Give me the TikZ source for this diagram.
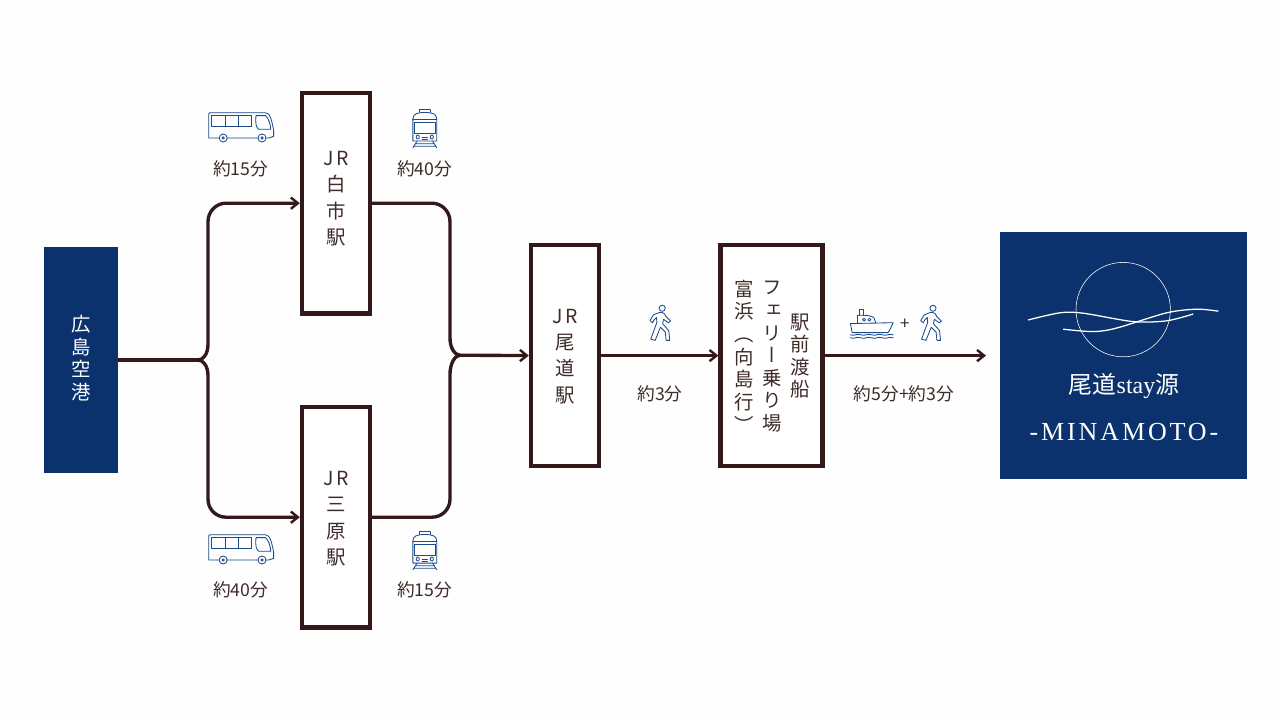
\documentclass[tikz,border=0pt]{standalone}
\usepackage{fontspec}
\setmainfont{Liberation Serif}
\newfontfamily\jpfont{Noto Sans CJK JP}
\newfontfamily\jpvert[RawFeature=+vert]{Noto Sans CJK JP}
\newfontfamily\logofont[LetterSpace=11]{Liberation Serif}
\usetikzlibrary{arrows.meta, positioning}
\definecolor{navy}{HTML}{0B326C}
\definecolor{linebrown}{HTML}{33191A}
\definecolor{textbrown}{HTML}{3E2C28}
\definecolor{iconblue}{HTML}{1A4A88}
\tikzset{
    stationbox/.style={
        rectangle, draw=linebrown, line width=3.1pt,
        minimum width=1.7cm, minimum height=5.52cm, fill=white
    },
    navybox/.style={rectangle, fill=navy, text=white},
    stationtext/.style={
        font=\fontsize{13.8}{18.7}\selectfont\jpvert, text=textbrown,
        align=center, inner sep=0pt
    },
    ferrytext/.style={stationtext, font=\fontsize{13.8}{16.1}\selectfont\jpvert},
    timetext/.style={font=\fontsize{12.6}{15}\selectfont\jpfont, text=textbrown, inner sep=0pt},
    wire/.style={draw=linebrown, line width=2.4pt},
    arrowwire/.style={wire, -{Straight Barb[length=5pt, width=8pt, line width=1.7pt]}},
    iconline/.style={draw=iconblue, line width=0.6pt, line join=round, line cap=round},
    wave/.style={draw=white, line width=0.9pt},
    busicon/.pic={
        \draw[iconline] (-0.8,-0.3) -- (-0.8,0.3) .. controls (-0.8,0.33) and (-0.78,0.33) .. (-0.75,0.33)
            -- (0.62,0.33) .. controls (0.74,0.33) and (0.78,0.1) .. (0.82,-0.1) -- (0.82,-0.26) -- (0.7,-0.3) -- (-0.8,-0.3);
        \draw[iconline] (-0.73,0.26) rectangle (0.27,-0.02);
        \draw[iconline] (-0.39,0.26) -- (-0.39,-0.02) (-0.06,0.26) -- (-0.06,-0.02);
        \draw[iconline] (0.38,0.26) -- (0.62,0.26) .. controls (0.7,0.18) and (0.74,0.05) .. (0.75,-0.08) -- (0.45,-0.08) .. controls (0.38,-0.06) and (0.36,0.1) .. (0.38,0.26);
        \foreach \wx in {-0.44,0.53}{
            \draw[iconline, fill=white] (\wx,-0.3) circle (0.1);
            \draw[iconline] (\wx,-0.3) circle (0.03);
        }
    },
    trainicon/.pic={
        \draw[iconline] (-0.2,0.5) -- (0.2,0.5) (-0.2,0.5) -- (-0.2,0.42) (0.2,0.5) -- (0.2,0.42);
        \draw[iconline] (-0.46,-0.42) -- (-0.46,0.22) .. controls (-0.46,0.38) and (-0.3,0.42) .. (0,0.42)
            .. controls (0.3,0.42) and (0.46,0.38) .. (0.46,0.22) -- (0.46,-0.42) -- cycle;
        \draw[iconline] (-0.46,0.22) -- (0.46,0.22);
        \draw[iconline] (-0.4,0.14) rectangle (0.4,-0.2);
        \draw[iconline] (-0.27,-0.3) circle (0.06) (0.27,-0.3) circle (0.06);
        \draw[iconline] (-0.1,-0.3) -- (0.1,-0.3) (-0.1,-0.36) -- (0.1,-0.36);
        \draw[iconline] (-0.3,-0.42) -- (-0.46,-0.62) (0.3,-0.42) -- (0.46,-0.62) (-0.37,-0.5) -- (0.37,-0.5) (-0.42,-0.57) -- (0.42,-0.57);
    },
    walkicon/.pic={
        \draw[iconline] (0.1,0.66) circle (0.14);
        \draw[iconline] (-0.05,0.46) .. controls (0.1,0.5) and (0.22,0.44) .. (0.26,0.3) -- (0.48,0.08) -- (0.38,0) -- (0.16,0.16)
            -- (0.12,-0.04) -- (0.4,-0.36) -- (0.44,-0.8) -- (0.28,-0.8) -- (0.24,-0.42) -- (0.02,-0.2)
            -- (-0.22,-0.8) -- (-0.42,-0.74) -- (-0.14,0.02) -- (-0.16,0.24) -- (-0.28,0.12) -- (-0.34,0) -- (-0.46,0.1) -- (-0.3,0.36) -- cycle;
    },
    shipicon/.pic={
        \draw[iconline] (-0.98,0.02) -- (1.0,0.06) .. controls (0.9,-0.12) and (0.85,-0.32) .. (0.75,-0.4) -- (-0.9,-0.4) -- cycle;
        \draw[iconline] (-0.65,0.02) -- (-0.65,0.4) .. controls (-0.3,0.42) and (-0.05,0.4) .. (0.1,0.3) -- (0.2,0.03);
        \draw[iconline] (-0.55,0.4) -- (-0.55,0.66) -- (-0.38,0.66) -- (-0.38,0.4);
        \draw[iconline] (-0.35,0.2) circle (0.07) (-0.1,0.2) circle (0.07);
        \foreach \wy in {-0.5,-0.64}
            \draw[iconline] (-0.98,\wy) .. controls (-0.74,\wy-0.08) and (-0.74,\wy+0.08) .. (-0.5,\wy)
                .. controls (-0.26,\wy-0.08) and (-0.26,\wy+0.08) .. (0,\wy)
                .. controls (0.24,\wy-0.08) and (0.24,\wy+0.08) .. (0.5,\wy)
                .. controls (0.74,\wy-0.08) and (0.74,\wy+0.08) .. (1.0,\wy);
    }
}

\begin{document}
\begin{tikzpicture}

\useasboundingbox[fill=white!99.5!black] (0,0) rectangle (32,18);

% boxes
\node[navybox, minimum width=1.85cm, minimum height=5.65cm] (airport) at (2.025,9) {};
\node[stationbox] (shiraichi) at (8.4,12.92) {};
\node[stationbox] (mihara) at (8.4,5.07) {};
\node[stationbox] (onomichi) at (14.125,9.11) {};
\node[stationbox, minimum width=2.55cm] (ferry) at (19.29,9.11) {};
\node[navybox, minimum width=6.18cm, minimum height=6.18cm] (logo) at (28.09,9.11) {};

% box texts
\node[ferrytext, text=white] (airporttext) at (2.025,9.05) {広\\島\\空\\港};
\node[stationtext] (shiraichitext) at (8.4,13.03) {J\,R\\白\\市\\駅};
\node[stationtext] (miharatext) at (8.4,5.03) {J\,R\\三\\原\\駅};
\node[stationtext] (onomichitext) at (14.125,9.09) {J\,R\\尾\\道\\駅};
\node[ferrytext] (ferrycol1) at (20,9.1) {駅\\前\\渡\\船};
\node[ferrytext] (ferrycol2) at (19.3,9.08) {フ\\ェ\\リ\\ー\\乗\\り\\場};
\node[ferrytext] (ferrycol3) at (18.6,9.1) {富\\浜\\（\\向\\島\\行\\）};

% times
\node[timetext] (time1) at (6.02,13.77) {約15分};
\node[timetext] (time2) at (10.62,13.77) {約40分};
\node[timetext] (time3) at (6.02,3.25) {約40分};
\node[timetext] (time4) at (10.62,3.25) {約15分};
\node[timetext] (time5) at (16.5,8.16) {約3分};
\node[timetext] (time6) at (22.6,8.16) {約5分+約3分};

% icons
\pic at (6.02,14.85) {busicon};
\pic[xscale=0.65, yscale=0.85] at (10.62,14.83) {trainicon};
\pic at (6.02,4.3) {busicon};
\pic[xscale=0.65, yscale=0.85] at (10.62,4.28) {trainicon};
\pic[scale=0.55] at (16.5,9.93) {walkicon};
\pic[scale=0.54] at (21.79,9.9) {shipicon};
\node[timetext, font=\fontsize{12}{14}\selectfont\jpfont] (plus) at (22.62,9.9) {+};
\pic[scale=0.55] at (23.27,9.93) {walkicon};

% junctions
\coordinate (split) at (4.95,9);
\coordinate (merge) at (11.5,9.12);
\coordinate (end) at (24.65,9.11);

% connectors
\draw[wire] (airport.east) -- (split);
\draw[arrowwire] (split) .. controls (5.08,9) and (5.2,9.15) .. (5.2,9.4)
    -- (5.2,12.46) .. controls (5.2,12.71) and (5.4,12.92) .. (5.65,12.92) -- (shiraichi.west);
\draw[arrowwire] (split) .. controls (5.08,9) and (5.2,8.85) .. (5.2,8.6)
    -- (5.2,5.52) .. controls (5.2,5.27) and (5.4,5.07) .. (5.65,5.07) -- (mihara.west);
\draw[wire] (shiraichi.east) -- (10.8,12.92) .. controls (11.05,12.92) and (11.25,12.71) .. (11.25,12.46)
    -- (11.25,9.55) .. controls (11.25,9.3) and (11.37,9.12) .. (merge);
\draw[wire] (mihara.east) -- (10.8,5.07) .. controls (11.05,5.07) and (11.25,5.27) .. (11.25,5.52)
    -- (11.25,8.65) .. controls (11.25,8.9) and (11.37,9.12) .. (merge);
\draw[arrowwire] (merge) -- (onomichi.west);
\draw[arrowwire] (onomichi.east) -- (ferry.west);
\draw[arrowwire] (ferry.east) -- (end);

% logo
\node[draw=white, circle, line width=0.4pt, minimum size=2.36cm, inner sep=0pt] (moon) at (28.08,10.26) {};
\draw[wave] plot[smooth] coordinates {(25.7,10) (26.5,10.18) (27.08,10.17) (28.33,9.96) (29.17,9.98) (29.83,10.15)};
\draw[wave] plot[smooth] coordinates {(26.58,9.77) (27.33,9.71) (27.92,9.8) (29.17,10.18) (29.92,10.27) (30.46,10.22)};
\node[font=\fontsize{17}{19}\selectfont\jpfont, text=white, inner sep=0pt] (logoname) at (28.1,8.35) {尾道\fontspec{Liberation Serif}stay\jpfont 源};
\node[font=\fontsize{18.5}{20}\selectfont\logofont, text=white, inner sep=0pt] (logoroman) at (28.1,7.2) {-MINAMOTO-};

\end{tikzpicture}
\end{document}
